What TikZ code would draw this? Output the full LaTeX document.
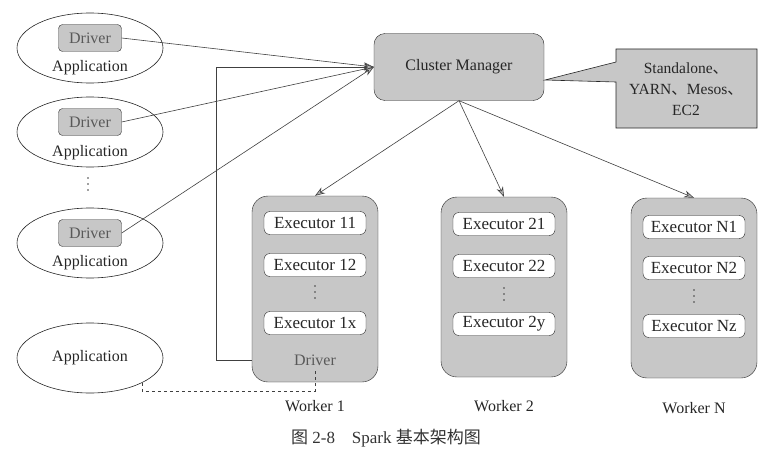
\documentclass[tikz,border=0pt]{standalone}
\usepackage{fontspec}
\setmainfont{Liberation Serif}
\newfontfamily\cjk{Noto Sans CJK SC}
\usetikzlibrary{arrows.meta,shapes.geometric}

\begin{document}
\begin{tikzpicture}[x=1pt,y=-1pt,
  every node/.style={font=\fontsize{16}{20}\selectfont, text=black!85},
  edgeline/.style={draw=black!75, line width=0.6pt},
  conn/.style={edgeline, -{Stealth[length=10pt,width=7pt,fill=black!30]}},
  appell/.style={ellipse, draw=black!85, line width=0.6pt, minimum width=146pt, minimum height=70pt, inner sep=0pt},
  drvbox/.style={rectangle, rounded corners=4pt, draw=black!80, fill=black!22, minimum width=63pt, minimum height=27pt, inner sep=0pt, text=black!65},
  exebox/.style={rectangle, rounded corners=6pt, draw=black!85, fill=white, minimum width=102pt, minimum height=23pt, inner sep=0pt, font=\fontsize{17}{20}\selectfont},
  workerbox/.style={rectangle, rounded corners=16pt, draw=black!85, fill=black!22, minimum width=126pt, minimum height=183pt, inner sep=0pt},
  cmbox/.style={rectangle, rounded corners=11pt, draw=black!85, fill=black!22, minimum width=170pt, minimum height=67pt, inner sep=0pt}]
\useasboundingbox (0,0) rectangle (776,460);

% Marking applications with driver
\node[appell] (app1) at (90,48) {};
\node[drvbox] (drv1) at (90,38) {Driver};
\node (lab1) at (90,68) {Application};
\node[appell] (app2) at (90,132) {};
\node[drvbox] (drv2) at (90,122) {Driver};
\node (lab2) at (90,153) {Application};
\node[appell] (app3) at (90,243) {};
\node[drvbox] (drv3) at (90,233) {Driver};
\node (lab3) at (90,263) {Application};

% Marking application without driver
\node[appell] (app4) at (90,358) {Application};

% Cluster manager and note
\node[cmbox] (cm) at (459,67) {Cluster Manager};
\filldraw[draw=black!85, fill=black!22, line width=0.6pt] (616,49) -- (757,49) -- (757,128) -- (616,128) -- (616,82) -- (545,80) -- (616,62) -- cycle;
\node[align=center, font=\fontsize{15.5}{21}\selectfont] (note) at (686,89) {Standalone{\cjk 、}\\YARN{\cjk 、}Mesos{\cjk 、}\\EC2};

% Worker 1
\node[workerbox, minimum height=186pt] (w1) at (315,289) {};
\node[exebox] (e11) at (315,223) {Executor 11};
\node[exebox] (e12) at (315,265) {Executor 12};
\node[exebox] (e1x) at (315,323) {Executor 1x};
\node[text=black!65] (wdrv) at (315,360) {Driver};
\node (wl1) at (315,406) {Worker 1};

% Worker 2
\node[workerbox, minimum height=180pt] (w2) at (504,287) {};
\node[exebox] (e21) at (504,224) {Executor 21};
\node[exebox] (e22) at (504,266) {Executor 22};
\node[exebox] (e2y) at (504,324) {Executor 2y};
\node (wl2) at (504,406) {Worker 2};

% Worker N
\node[workerbox, minimum height=180pt] (wn) at (694,288) {};
\node[exebox] (en1) at (694,227) {Executor N1};
\node[exebox] (en2) at (694,268) {Executor N2};
\node[exebox] (enz) at (694,326) {Executor Nz};
\node (wln) at (694,408) {Worker N};

% Marking dots
\foreach \x/\y in {88/184, 315/292, 504/294, 694/296}
  \foreach \d in {-6,0,6}
    \fill[black!75] (\x,\y+\d) circle (0.9pt);

% Drawing connectors
\draw[conn] (drv1.east) -- (cm.west);
\draw[conn] (drv2.east) -- (cm.west);
\draw[conn] (drv3.east) -- (cm.west);
\draw[conn] (wdrv -| w1.west) -- ++(-36,0) |- (cm.west);
\draw[conn] (cm.south) -- (w1.north);
\draw[conn] (cm.south) -- (w2.north);
\draw[conn] (cm.south) -- (wn.north);
\draw[edgeline, dashed] (app4.south east) -- ++(0,8) -| (wdrv.south);

% Caption
\node[font=\fontsize{17}{20}\selectfont, text=black!80] (cap) at (386,438) {{\cjk 图} 2-8\quad Spark {\cjk 基本架构图}};
\end{tikzpicture}
\end{document}
